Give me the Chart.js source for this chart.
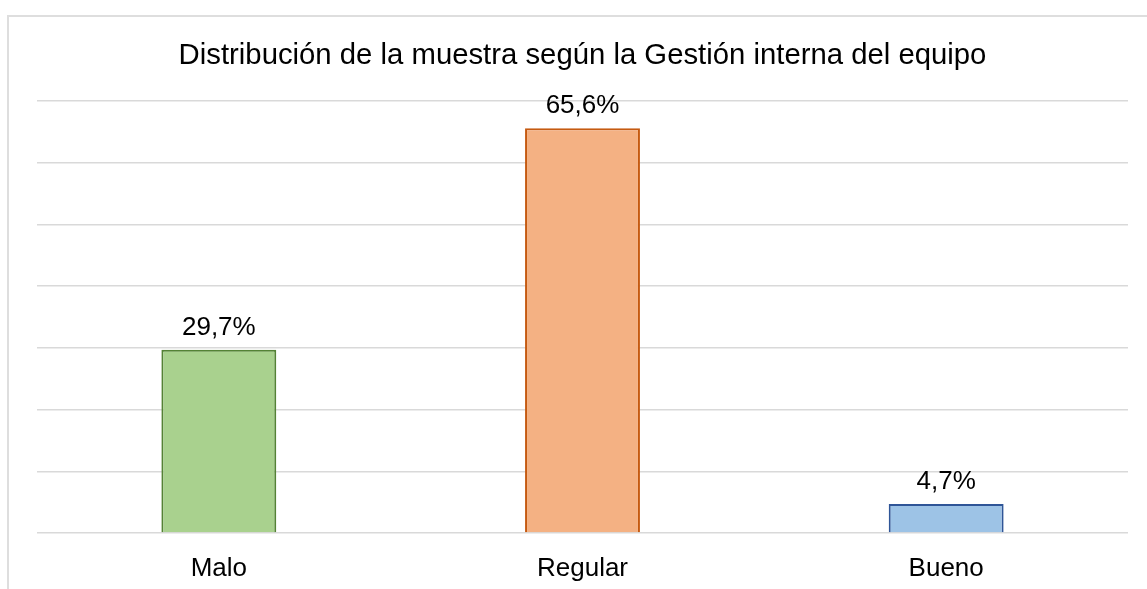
<!DOCTYPE html>
<html>
<head>
<meta charset="utf-8">
<script src="https://cdn.jsdelivr.net/npm/chart.js@4"></script>
<style>
  html, body { margin: 0; padding: 0; background: #ffffff; }
  #wrap { position: relative; width: 1147px; height: 589px; overflow: hidden; }
  #frame { position: absolute; left: 7px; top: 15px; width: 2000px; height: 2000px;
           border-left: 2px solid #dedede; border-top: 2px solid #dedede; box-sizing: border-box; }
  #c { position: absolute; left: 0; top: 0; }
</style>
</head>
<body>
<div id="wrap">
  <div id="frame"></div>
  <canvas id="c" width="1147" height="589"></canvas>
</div>
<script>
const titleText = 'Distribución de la muestra según la Gestión interna del equipo';
const categories = ['Malo', 'Regular', 'Bueno'];
const percentValues = [29.7, 65.6, 4.7];
const fillColors = ['#A9D18E', '#F4B183', '#9DC3E6'];
const borderColors = ['#548235', '#C55A11', '#2F5597'];
const axisMin = 0, axisMax = 70, axisStep = 10;

const FONT = '"Liberation Sans", Arial, sans-serif';

const valueLabels = {
  id: 'valueLabels',
  afterDatasetsDraw(chart) {
    const ctx = chart.ctx;
    const meta = chart.getDatasetMeta(0);
    ctx.save();
    ctx.font = '26px ' + FONT;
    ctx.fillStyle = '#000000';
    ctx.textAlign = 'center';
    ctx.textBaseline = 'alphabetic';
    meta.data.forEach((bar, i) => {
      const v = chart.data.datasets[0].data[i];
      const txt = v.toFixed(1).replace('.', ',') + '%';
      ctx.fillText(txt, bar.x, bar.y - 15);
    });
    ctx.restore();
  }
};

new Chart(document.getElementById('c'), {
  type: 'bar',
  data: {
    labels: categories,
    datasets: [{
      data: percentValues,
      backgroundColor: fillColors,
      borderColor: borderColors,
      borderWidth: 2,
      categoryPercentage: 1,
      barPercentage: 0.316
    }]
  },
  options: {
    responsive: false,
    animation: false,
    devicePixelRatio: 1,
    layout: { padding: { left: 37, right: 19, top: 0, bottom: 0 } },
    plugins: {
      legend: { display: false },
      tooltip: { enabled: false },
      title: {
        display: true,
        text: titleText,
        color: '#000000',
        font: { family: FONT, size: 29.3, weight: 'normal', lineHeight: 1.2 },
        padding: { top: 38.5, bottom: 27.5 }
      }
    },
    scales: {
      x: {
        grid: { display: false },
        border: { display: false },
        ticks: { color: '#000000', font: { family: FONT, size: 26 }, padding: 12 },
        afterFit(scale) { scale.height = 56; }
      },
      y: {
        min: axisMin,
        max: axisMax,
        ticks: { display: false, stepSize: axisStep },
        border: { display: false },
        grid: { color: '#d9d9d9', lineWidth: 1.5, drawTicks: false }
      }
    }
  },
  plugins: [valueLabels]
});
</script>
</body>
</html>
